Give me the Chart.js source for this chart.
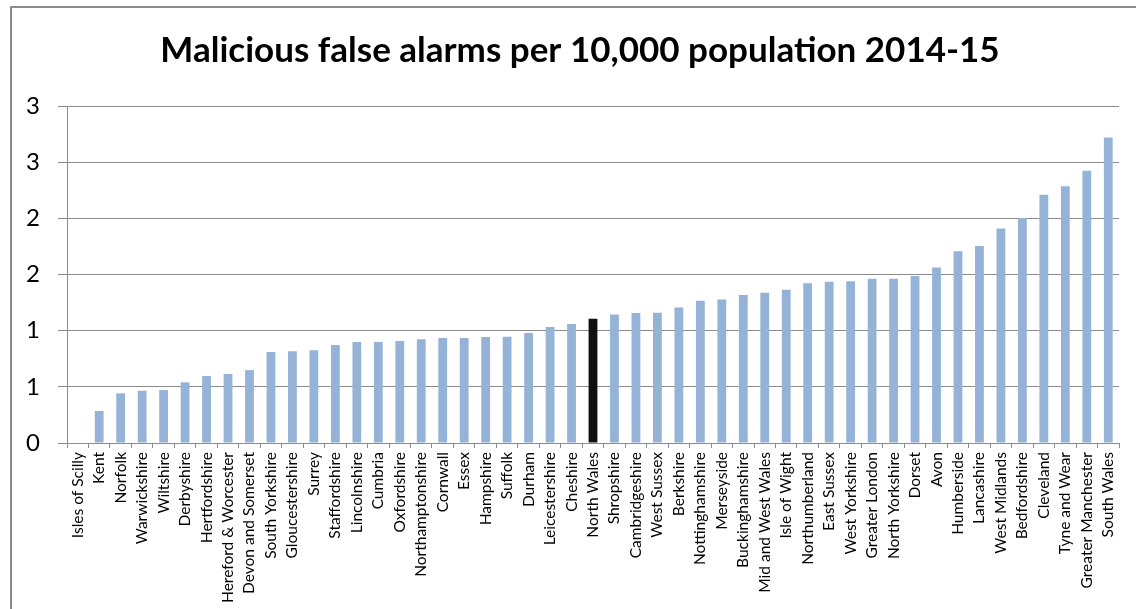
<!DOCTYPE html>
<html>
<head>
<meta charset="utf-8">
<script src="https://cdn.jsdelivr.net/npm/chart.js@4"></script>
<style>
    html, body { margin: 0; padding: 0; background: #fff; overflow: hidden; }
    body { width: 1136px; height: 609px; position: relative; }
    #frame { position: absolute; left: 10px; top: 6px; width: 1200px; height: 700px; border: 2px solid #8c8c8c; box-sizing: border-box; }
    #wrap { position: absolute; left: 12px; top: 0; width: 1136px; height: 609px; }
</style>
</head>
<body>
<div id="frame"></div>
<div id="wrap"><canvas id="alarmsChart" width="1136" height="609"></canvas></div>
<script>
const chartTitle = 'Malicious false alarms per 10,000 population 2014-15';

const areas = ['Isles of Scilly', 'Kent', 'Norfolk', 'Warwickshire', 'Wiltshire', 'Derbyshire', 'Hertfordshire',
    'Hereford & Worcester', 'Devon and Somerset', 'South Yorkshire', 'Gloucestershire', 'Surrey', 'Staffordshire',
    'Lincolnshire', 'Cumbria', 'Oxfordshire', 'Northamptonshire', 'Cornwall', 'Essex', 'Hampshire', 'Suffolk',
    'Durham', 'Leicestershire', 'Cheshire', 'North Wales', 'Shropshire', 'Cambridgeshire', 'West Sussex',
    'Berkshire', 'Nottinghamshire', 'Merseyside', 'Buckinghamshire', 'Mid and West Wales', 'Isle of Wight',
    'Northumberland', 'East Sussex', 'West Yorkshire', 'Greater London', 'North Yorkshire', 'Dorset', 'Avon',
    'Humberside', 'Lancashire', 'West Midlands', 'Bedfordshire', 'Cleveland', 'Tyne and Wear',
    'Greater Manchester', 'South Wales'];

const alarmsPer10k = [0, 0.285, 0.442, 0.465, 0.471, 0.540, 0.596, 0.614, 0.649, 0.810, 0.816, 0.825, 0.872,
    0.899, 0.899, 0.907, 0.923, 0.934, 0.935, 0.943, 0.946, 0.979, 1.032, 1.059, 1.106, 1.145, 1.157, 1.159,
    1.207, 1.266, 1.278, 1.317, 1.337, 1.364, 1.423, 1.435, 1.441, 1.462, 1.462, 1.486, 1.563, 1.708, 1.753,
    1.910, 2.004, 2.209, 2.286, 2.423, 2.720];

const highlightArea = 'North Wales';

// Excel showed the half steps rounded to whole numbers
const yTickLabels = ['0', '1', '1', '2', '2', '3', '3'];

const barColours = areas.map(a => a === highlightArea ? '#111111' : '#95b3d7');
const gridGrey = '#8c8c8c';

// the Excel title is centred on the whole frame, not on the plot, so draw it ourselves
const frameTitle = {
    id: 'frameTitle',
    afterDraw(chart) {
        const c = chart.ctx;
        c.save();
        c.font = 'bold 35px Lato';
        c.fillStyle = '#000';
        c.textAlign = 'center';
        c.textBaseline = 'middle';
        c.fillText(chartTitle, 568, 51);
        c.restore();
    }
};

const ctx = document.getElementById('alarmsChart').getContext('2d');
new Chart(ctx, {
    type: 'bar',
    data: {
        labels: areas,
        datasets: [{
            data: alarmsPer10k,
            backgroundColor: barColours,
            barPercentage: 0.41,
            categoryPercentage: 1
        }]
    },
    plugins: [frameTitle],
    options: {
        responsive: false,
        animation: false,
        layout: { padding: { left: 0, right: 29, top: 106, bottom: 0 } },
        plugins: {
            legend: { display: false },
            tooltip: { enabled: false },
            title: { display: false }
        },
        scales: {
            x: {
                grid: { display: true, drawOnChartArea: false, color: gridGrey, tickLength: 5, offset: true },
                border: { color: gridGrey, width: 1 },
                ticks: {
                    color: '#000',
                    autoSkip: false,
                    maxRotation: 90,
                    minRotation: 90,
                    padding: 4,
                    font: { family: 'Lato', size: 15.5 }
                },
                afterFit: scale => { scale.height = 166; }
            },
            y: {
                min: 0,
                max: 3,
                grid: { color: gridGrey, tickLength: 9 },
                border: { color: gridGrey, width: 1 },
                ticks: {
                    stepSize: 0.5,
                    color: '#000',
                    padding: 18,
                    font: { family: 'Lato', size: 24 },
                    callback: (value, index) => yTickLabels[index]
                },
                afterFit: scale => { scale.width = 55; }
            }
        }
    }
});
</script>
</body>
</html>
